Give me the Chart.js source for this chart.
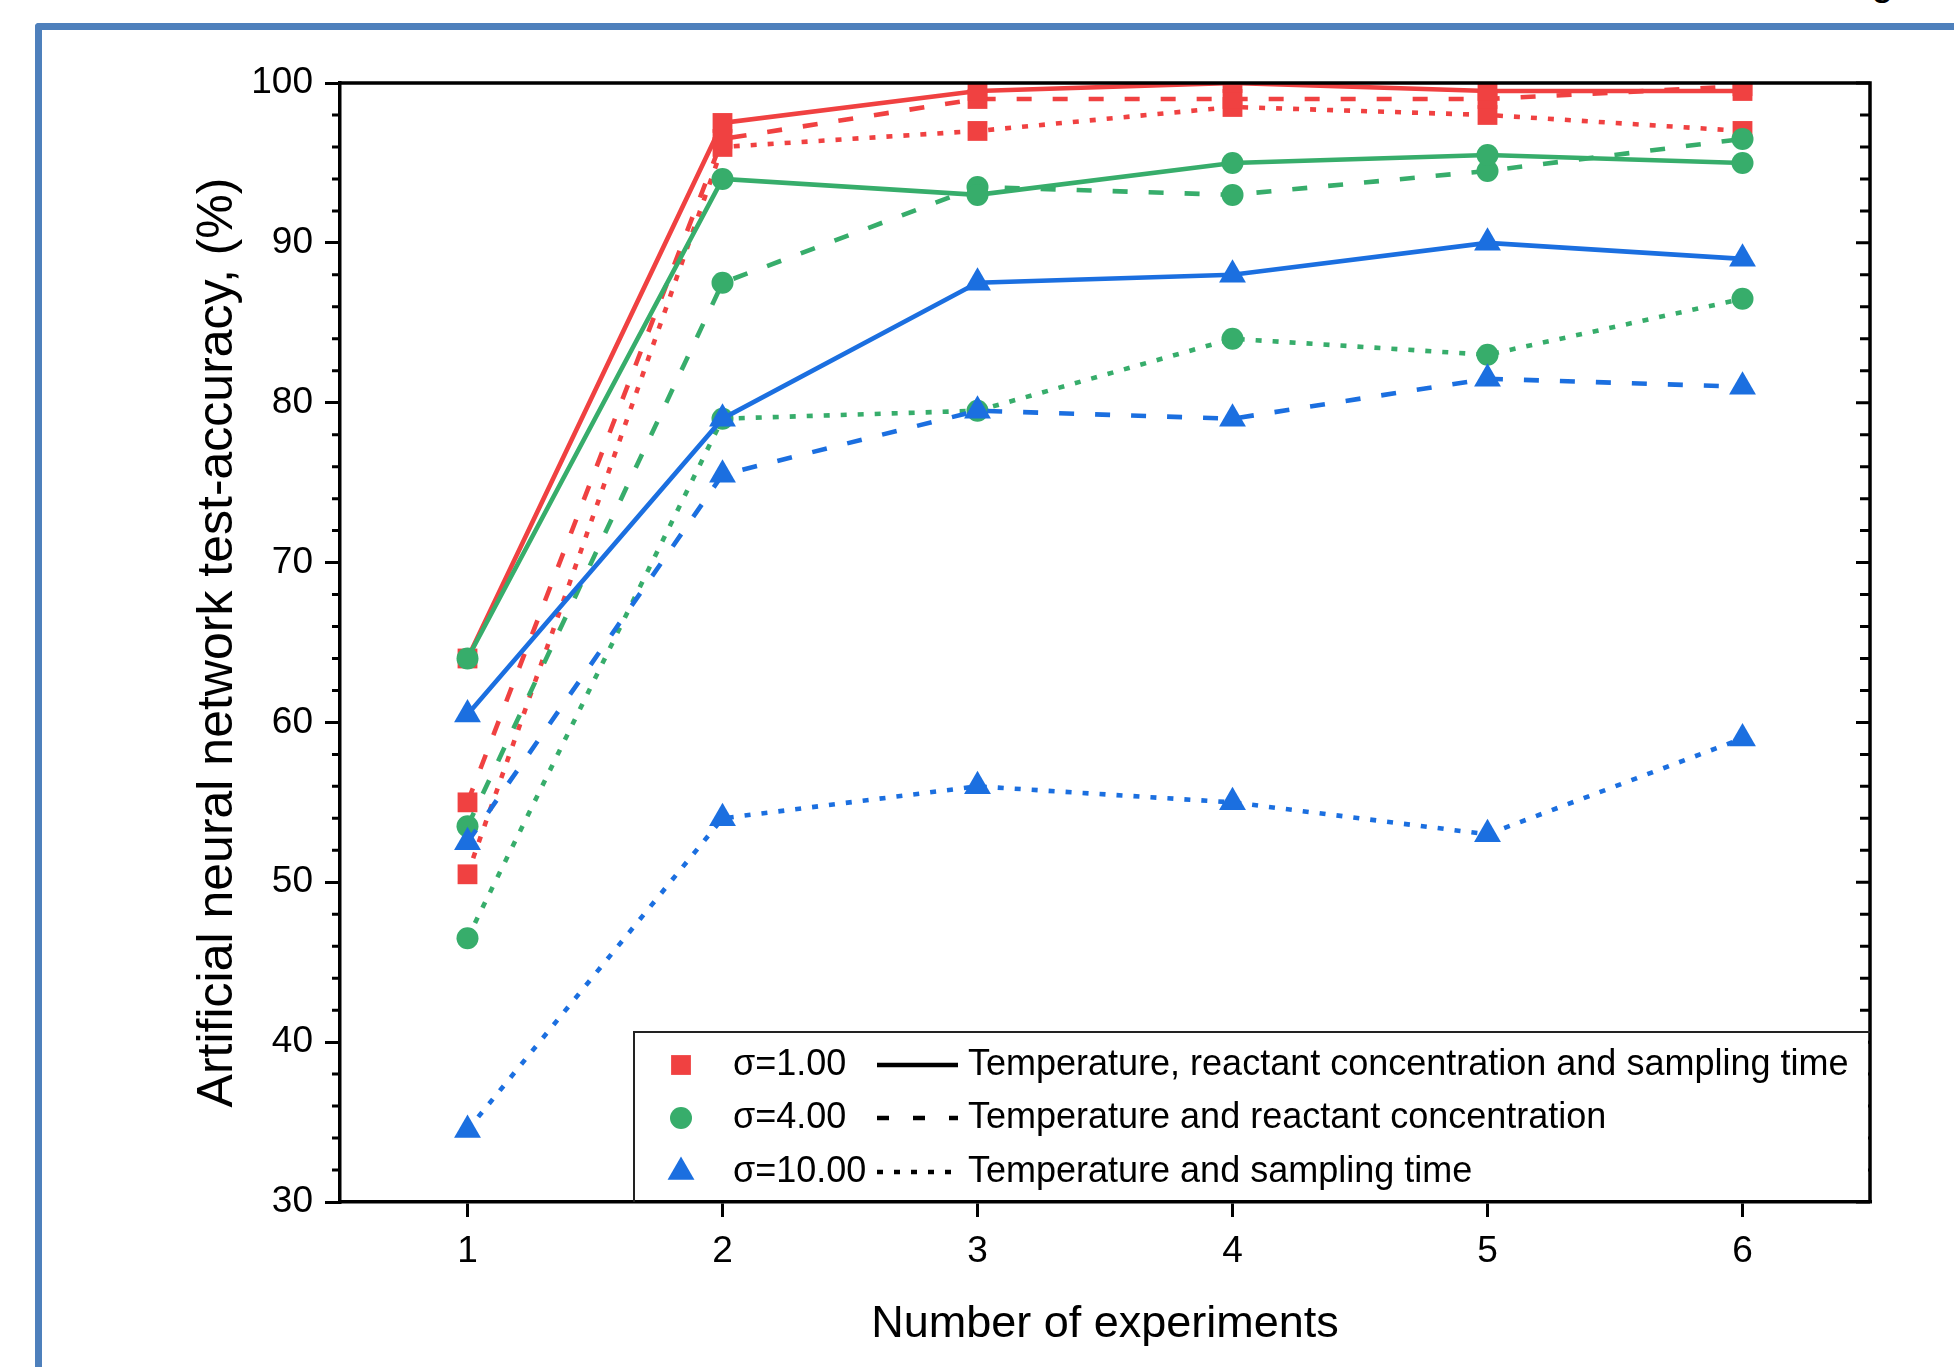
<!DOCTYPE html>
<html>
<head>
<meta charset="utf-8">
<script src="https://cdn.jsdelivr.net/npm/chart.js@4.4.0/dist/chart.umd.min.js"></script>
<style>
  html, body { margin: 0; padding: 0; background: #fff; overflow: hidden; }
  #frame {
    position: absolute; left: 35px; top: 23px; width: 2100px; height: 1500px;
    border-left: 7px solid #4e80bc; border-top: 7px solid #4e80bc;
    border-top-left-radius: 4px;
  }
  #figLabel {
    position: absolute; left: 1838px; top: -41px; line-height: 40px;
    font: 40px "Liberation Sans", Arial, sans-serif; color: #000;
  }
  #accuracyChart { position: absolute; left: 0; top: 0; }
</style>
</head>
<body>
<div id="frame"></div>
<div id="figLabel">Fig</div>
<canvas id="accuracyChart" width="1954" height="1367"></canvas>
<script>
const experiments = [1, 2, 3, 4, 5, 6]

const sigmaLabels = ['σ=1.00', 'σ=4.00', 'σ=10.00']
const inputLabels = [
  'Temperature, reactant concentration and sampling time',
  'Temperature and reactant concentration',
  'Temperature and sampling time',
]

// sigma = 1.00
const sigma1All = [64, 97.5, 99.5, 100, 99.5, 99.5]
const sigma1TempConc = [55, 96.5, 99, 99, 99, 99.8]
const sigma1TempTime = [50.5, 96, 97, 98.5, 98, 97]

// sigma = 4.00
const sigma4All = [64, 94, 93, 95, 95.5, 95]
const sigma4TempConc = [53.5, 87.5, 93.5, 93, 94.5, 96.5]
const sigma4TempTime = [46.5, 79, 79.5, 84, 83, 86.5]

// sigma = 10.00
const sigma10All = [60.5, 79, 87.5, 88, 90, 89]
const sigma10TempConc = [52.5, 75.5, 79.5, 79, 81.5, 81]
const sigma10TempTime = [34.5, 54, 56, 55, 53, 59]

const colors = ['#f04141', '#37ad6b', '#1b6fe0']
const pointStyles = ['rect', 'circle', 'triangle']
const pointRadii = [14, 11, 15.5]
const dashes = [[], [15, 21], [6, 11]]
const fontFamily = '"Liberation Sans", Arial, sans-serif'

const groups = [
  [sigma1All, sigma1TempConc, sigma1TempTime],
  [sigma4All, sigma4TempConc, sigma4TempTime],
  [sigma10All, sigma10TempConc, sigma10TempTime],
]

const datasets = []
groups.forEach((series, g) => {
  series.forEach((values, s) => {
    datasets.push({
      label: sigmaLabels[g] + ' ' + inputLabels[s],
      data: experiments.map((x, i) => ({x: x, y: values[i]})),
      showLine: true,
      borderColor: colors[g],
      backgroundColor: colors[g],
      borderWidth: 4.6,
      borderDash: dashes[s],
      tension: 0,
      pointStyle: pointStyles[g],
      pointRadius: pointRadii[g],
      pointBorderWidth: 0,
      pointBackgroundColor: colors[g],
      order: 3 - g,
    })
  })
})

// minor ticks, mirrored ticks on the right, top and right frame lines
const axisFrame = {
  id: 'axisFrame',
  afterDatasetsDraw(chart) {
    const {ctx, chartArea: a, scales: {y}} = chart
    ctx.save()
    ctx.strokeStyle = '#000'
    ctx.lineWidth = 3
    ctx.beginPath()
    for (let v = y.min; v <= y.max; v += 2) {
      const py = y.getPixelForValue(v)
      const major = v % 10 === 0
      if (!major) {
        ctx.moveTo(a.left - 8, py)
        ctx.lineTo(a.left, py)
      }
      ctx.moveTo(a.right, py)
      ctx.lineTo(a.right - (major ? 14 : 10), py)
    }
    ctx.stroke()
    ctx.lineWidth = 3.5
    ctx.beginPath()
    ctx.moveTo(a.left, a.top)
    ctx.lineTo(a.right, a.top)
    ctx.lineTo(a.right, a.bottom)
    ctx.stroke()
    ctx.restore()
  }
}

// legend: marker column + line style column, like the original figure
const legendBox = {
  id: 'legendBox',
  afterDraw(chart) {
    const {ctx, chartArea: a} = chart
    const left = a.left + 294
    const top = a.top + 949
    ctx.save()
    ctx.fillStyle = '#fff'
    ctx.fillRect(left, top, a.right - left - 2, a.bottom - top - 2)
    ctx.strokeStyle = '#222'
    ctx.lineWidth = 2
    ctx.beginPath()
    ctx.moveTo(a.right, top)
    ctx.lineTo(left, top)
    ctx.lineTo(left, a.bottom)
    ctx.stroke()
    ctx.font = '36px ' + fontFamily
    ctx.textBaseline = 'middle'
    const rows = [33, 86, 140]
    rows.forEach((dy, i) => {
      const cy = top + dy
      ctx.fillStyle = colors[i]
      Chart.helpers.drawPoint(ctx, {pointStyle: pointStyles[i], radius: pointRadii[i], borderWidth: 0, rotation: 0}, left + 47, cy)
      ctx.fillStyle = '#000'
      ctx.fillText(sigmaLabels[i], left + 99, cy)
      ctx.strokeStyle = '#000'
      ctx.lineWidth = 4.6
      ctx.setLineDash(i === 1 ? [12, 24] : dashes[i])
      ctx.beginPath()
      ctx.moveTo(left + 243, cy)
      ctx.lineTo(left + 324, cy)
      ctx.stroke()
      ctx.setLineDash([])
      ctx.fillText(inputLabels[i], left + 334, cy)
    })
    ctx.restore()
  }
}

const ctx = document.getElementById('accuracyChart').getContext('2d')
const accuracyChart = new Chart(ctx, {
  type: 'scatter',
  data: {datasets: datasets},
  plugins: [axisFrame, legendBox],
  options: {
    responsive: false,
    animation: false,
    devicePixelRatio: 1,
    events: [],
    layout: {padding: {left: 0, right: 84, top: 83, bottom: 0}},
    plugins: {
      legend: {display: false},
      tooltip: {enabled: false},
    },
    scales: {
      x: {
        type: 'linear',
        min: 0.5,
        max: 6.5,
        afterBuildTicks: (axis) => { axis.ticks = experiments.map((v) => ({value: v})) },
        afterFit: (axis) => { axis.height = 165 },
        grid: {drawOnChartArea: false, drawTicks: true, tickLength: 15, color: '#000', lineWidth: 3},
        border: {display: true, color: '#000', width: 3.5},
        ticks: {color: '#000', padding: 13, font: {size: 37, family: fontFamily}, maxRotation: 0},
        title: {
          display: true,
          text: 'Number of experiments',
          color: '#000',
          font: {size: 45, family: fontFamily},
          padding: {top: 0, bottom: 15},
        },
      },
      y: {
        min: 30,
        max: 100,
        afterFit: (axis) => { axis.width = 340 },
        grid: {drawOnChartArea: false, drawTicks: true, tickLength: 15, color: '#000', lineWidth: 3},
        border: {display: true, color: '#000', width: 3.5},
        ticks: {stepSize: 10, color: '#000', padding: 12, font: {size: 37, family: fontFamily}},
        title: {
          display: true,
          text: 'Artificial neural network test-accuracy, (%)',
          color: '#000',
          font: {size: 50, family: fontFamily},
          padding: {top: 188, bottom: 0},
        },
      },
    },
  },
})
</script>
</body>
</html>
